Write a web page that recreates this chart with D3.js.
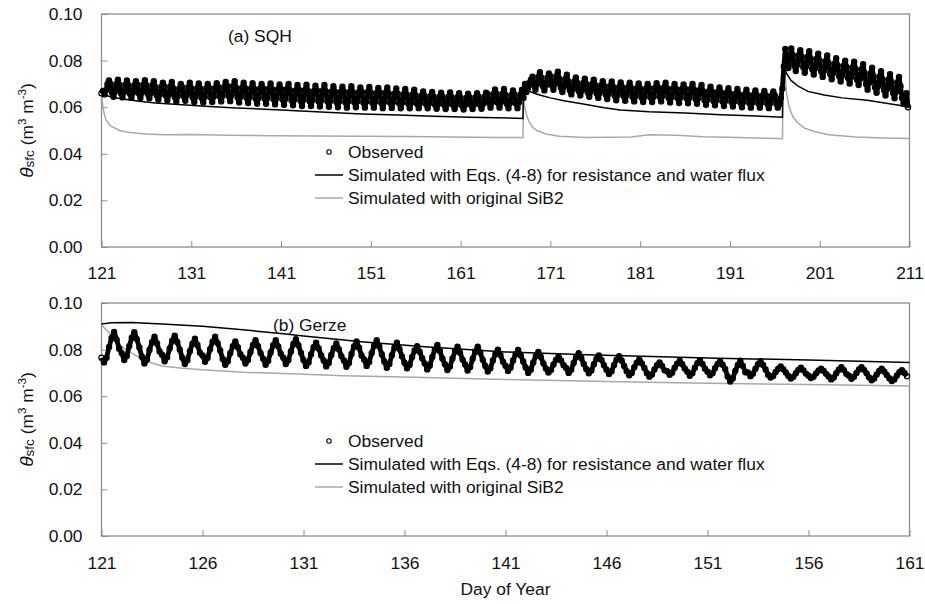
<!DOCTYPE html>
<html>
<head>
<meta charset="utf-8">
<script src="https://cdn.jsdelivr.net/npm/d3@7"></script>
<style>
  body { margin: 0; background: #fff; }
  svg { display: block; }
  text { font-family: "Liberation Sans", Arial, sans-serif; fill: #111; }
</style>
</head>
<body>
<svg id="chart" width="925" height="604"></svg>
<script>
// ---- Shared axis values ----
const thetaTicks = [0, 0.02, 0.04, 0.06, 0.08, 0.10];
const sqhDayTicks = [121, 131, 141, 151, 161, 171, 181, 191, 201, 211];
const gerzeDayTicks = [121, 126, 131, 136, 141, 146, 151, 156, 161];

// ---- (a) SQH: observed surface soil moisture, one value every 4 h from day 121 ----
const sqhObsStart = 121;
const sqhObsStepHours = 4;
const sqhObs = [
  .0660,.0670,.0655,.0673,.0700,.0715, .0700,.0663,.0645,.0667,.0700,.0718,
  .0697,.0660,.0642,.0664,.0697,.0715, .0694,.0658,.0640,.0662,.0694,.0712,
  .0697,.0659,.0640,.0663,.0697,.0716, .0694,.0657,.0638,.0660,.0694,.0712,
  .0687,.0650,.0632,.0654,.0687,.0705, .0689,.0650,.0630,.0653,.0689,.0708,
  .0681,.0644,.0625,.0648,.0681,.0700, .0686,.0647,.0628,.0651,.0686,.0705,
  .0682,.0642,.0622,.0646,.0682,.0702, .0680,.0640,.0620,.0644,.0680,.0700,
  .0683,.0642,.0622,.0646,.0683,.0703, .0687,.0646,.0625,.0650,.0687,.0708,
  .0691,.0648,.0626,.0652,.0691,.0712, .0684,.0641,.0620,.0646,.0684,.0705,
  .0682,.0639,.0618,.0644,.0682,.0703, .0679,.0636,.0615,.0641,.0679,.0700,
  .0680,.0637,.0615,.0641,.0680,.0702, .0677,.0634,.0612,.0638,.0677,.0698,
  .0678,.0633,.0610,.0637,.0678,.0700, .0673,.0630,.0608,.0634,.0673,.0695,
  .0674,.0628,.0605,.0633,.0674,.0697, .0670,.0627,.0605,.0631,.0670,.0692,
  .0672,.0626,.0603,.0631,.0672,.0695, .0668,.0624,.0602,.0628,.0668,.0690,
  .0666,.0622,.0600,.0626,.0666,.0688, .0667,.0621,.0598,.0626,.0667,.0690,
  .0664,.0621,.0600,.0626,.0664,.0685, .0665,.0620,.0598,.0625,.0665,.0687,
  .0662,.0619,.0598,.0624,.0662,.0683, .0663,.0618,.0596,.0623,.0663,.0685,
  .0659,.0618,.0597,.0622,.0659,.0680, .0657,.0616,.0595,.0620,.0657,.0678,
  .0655,.0615,.0595,.0619,.0655,.0675, .0650,.0614,.0596,.0618,.0650,.0668,
  .0648,.0613,.0595,.0616,.0648,.0665, .0645,.0610,.0593,.0614,.0645,.0662,
  .0645,.0610,.0592,.0613,.0645,.0663, .0643,.0609,.0592,.0612,.0643,.0660,
  .0641,.0607,.0590,.0610,.0641,.0658, .0643,.0609,.0592,.0612,.0643,.0660,
  .0645,.0610,.0593,.0614,.0645,.0662, .0657,.0618,.0598,.0621,.0657,.0676,
  .0658,.0618,.0598,.0622,.0658,.0678, .0653,.0614,.0595,.0618,.0653,.0672,
  .0655,.0616,.0596,.0620,.0655,.0675, .0640,.0700,.0665,.0681,.0705,.0718,
  .0731,.0694,.0675,.0698,.0731,.0750, .0727,.0690,.0672,.0694,.0727,.0745,
  .0733,.0694,.0675,.0698,.0733,.0752, .0721,.0684,.0665,.0688,.0721,.0740,
  .0710,.0673,.0655,.0677,.0710,.0728, .0704,.0668,.0650,.0672,.0704,.0722,
  .0700,.0663,.0645,.0667,.0700,.0718, .0694,.0658,.0640,.0662,.0694,.0712,
  .0691,.0654,.0635,.0658,.0691,.0710, .0687,.0649,.0630,.0653,.0687,.0706,
  .0686,.0647,.0628,.0651,.0686,.0705, .0683,.0644,.0625,.0648,.0683,.0702,
  .0681,.0642,.0622,.0645,.0681,.0700, .0683,.0642,.0622,.0646,.0683,.0703,
  .0685,.0645,.0625,.0649,.0685,.0705, .0680,.0640,.0620,.0644,.0680,.0700,
  .0678,.0638,.0618,.0642,.0678,.0698, .0679,.0638,.0617,.0642,.0679,.0700,
  .0675,.0635,.0615,.0639,.0675,.0695, .0669,.0630,.0610,.0633,.0669,.0688,
  .0666,.0627,.0608,.0631,.0666,.0685, .0663,.0624,.0605,.0628,.0663,.0682,
  .0659,.0622,.0603,.0626,.0659,.0678, .0656,.0619,.0600,.0623,.0656,.0675,
  .0654,.0617,.0598,.0620,.0654,.0672, .0652,.0616,.0598,.0620,.0652,.0670,
  .0650,.0614,.0596,.0618,.0650,.0668, .0650,.0615,.0598,.0612,.0640,.0680,
  .0775,.0850,.0790,.0768,.0815,.0852, .0823,.0778,.0755,.0782,.0823,.0845,
  .0817,.0771,.0748,.0776,.0817,.0840, .0808,.0763,.0740,.0767,.0808,.0830,
  .0799,.0753,.0730,.0758,.0799,.0822, .0788,.0743,.0720,.0747,.0788,.0810,
  .0778,.0733,.0710,.0737,.0778,.0800, .0772,.0725,.0702,.0730,.0772,.0795,
  .0763,.0718,.0695,.0722,.0763,.0785, .0746,.0699,.0675,.0704,.0746,.0770,
  .0732,.0685,.0662,.0690,.0732,.0755, .0719,.0673,.0650,.0678,.0719,.0742,
  .0707,.0661,.0638,.0666,.0707,.0730, .0690,.0640,.0615,.0645,.0660,.0600
];

// ---- (a) SQH: simulated with Eqs. (4-8) ----
const sqhEqsDay = [121, 122, 123, 125, 127, 130, 133, 136, 141, 146, 150, 154, 158, 162, 167.95,
  168.0, 168.3, 168.7, 169.2, 170, 171, 172.5, 174.5, 177, 178.8, 182, 186, 190, 194, 196.85,
  196.92, 197.3, 197.8, 198.6, 199.7, 201.5, 203.5, 206.3, 210, 211];
const sqhEqs = [.0658, .0645, .0637, .0627, .0618, .0610, .0603, .0597, .0588, .0578, .0571, .0566, .0561, .0557, .0552,
  .0685, .0676, .0668, .0660, .0650, .0640, .0628, .0615, .0598, .0588, .0580, .0575, .0568, .0562, .0557,
  .0790, .0745, .0715, .0690, .0668, .0652, .0640, .0630, .0607, .0598];

// ---- (a) SQH: simulated with original SiB2 ----
const sqhSib2Day = [121, 121.1, 121.25, 121.5, 122, 122.5, 123, 124, 125, 126, 128, 131, 135, 140, 145,
  150, 155, 160, 165, 167.95, 168.0, 168.15, 168.35, 168.6, 169.0, 169.5, 170.5, 172, 175, 180,
  182, 185, 188, 192, 196.85, 196.95, 197.1, 197.3, 197.6, 198.0, 198.5, 199.3, 200.5, 202, 205, 208, 211];
const sqhSib2 = [.0660, .0620, .0580, .0545, .0520, .0510, .0500, .0492, .0488, .0485, .0482, .0483, .0480, .0478, .0476,
  .0475, .0474, .0472, .0470, .0470, .0635, .0600, .0565, .0540, .0515, .0500, .0485, .0475, .0470, .0472,
  .0482, .0480, .0473, .0470, .0465, .0830, .0760, .0660, .0600, .0560, .0535, .0510, .0495, .0482, .0472, .0468, .0466];

// ---- (b) Gerze: observed surface soil moisture, one value every 3 h from day 121 ----
const gerzeObsStart = 121;
const gerzeObsStepHours = 3;
const gerzeObs = [
  .0765,.0745,.0765,.0811,.0850,.0876,.0843,.0804, .0785,.0755,.0773,.0815,.0851,.0875,.0845,.0809,
  .0769,.0740,.0757,.0798,.0832,.0855,.0826,.0792, .0778,.0750,.0767,.0805,.0838,.0860,.0833,.0800,
  .0765,.0738,.0754,.0793,.0825,.0847,.0820,.0787, .0775,.0748,.0764,.0802,.0834,.0855,.0828,.0796,
  .0760,.0735,.0750,.0785,.0815,.0835,.0810,.0780, .0765,.0740,.0755,.0790,.0820,.0840,.0815,.0785,
  .0761,.0735,.0751,.0788,.0819,.0840,.0814,.0782, .0765,.0738,.0754,.0792,.0824,.0845,.0818,.0786,
  .0755,.0730,.0745,.0780,.0810,.0830,.0805,.0775, .0753,.0728,.0743,.0777,.0806,.0826,.0802,.0772,
  .0753,.0726,.0742,.0781,.0813,.0835,.0808,.0775, .0758,.0730,.0747,.0785,.0818,.0840,.0813,.0780,
  .0749,.0722,.0738,.0776,.0808,.0830,.0803,.0771, .0744,.0720,.0734,.0768,.0796,.0815,.0791,.0763,
  .0741,.0715,.0731,.0768,.0799,.0820,.0794,.0762, .0737,.0712,.0727,.0762,.0792,.0812,.0787,.0757,
  .0736,.0710,.0725,.0761,.0792,.0812,.0787,.0756, .0730,.0706,.0720,.0753,.0781,.0800,.0777,.0748,
  .0731,.0708,.0722,.0753,.0780,.0798,.0776,.0749, .0723,.0700,.0714,.0745,.0772,.0790,.0768,.0741,
  .0719,.0702,.0712,.0736,.0756,.0770,.0753,.0733, .0721,.0700,.0713,.0743,.0768,.0785,.0764,.0738,
  .0717,.0698,.0710,.0737,.0760,.0775,.0756,.0733, .0714,.0695,.0707,.0734,.0757,.0772,.0753,.0730,
  .0707,.0690,.0700,.0724,.0744,.0758,.0741,.0721, .0699,.0684,.0693,.0715,.0733,.0745,.0730,.0711,
  .0707,.0692,.0701,.0722,.0740,.0752,.0737,.0719, .0705,.0688,.0698,.0722,.0742,.0755,.0738,.0718,
  .0705,.0690,.0699,.0720,.0738,.0750,.0735,.0717, .0685,.0663,.0676,.0708,.0734,.0752,.0730,.0703,
  .0702,.0686,.0696,.0718,.0737,.0750,.0734,.0715, .0692,.0680,.0687,.0704,.0718,.0728,.0716,.0702,
  .0688,.0676,.0683,.0699,.0713,.0722,.0711,.0697, .0688,.0678,.0684,.0698,.0710,.0718,.0708,.0696,
  .0685,.0672,.0680,.0699,.0714,.0725,.0712,.0696, .0688,.0675,.0683,.0700,.0715,.0725,.0713,.0698,
  .0681,.0668,.0676,.0693,.0708,.0718,.0706,.0691, .0677,.0665,.0672,.0689,.0703,.0712,.0700,.0686
];

// ---- (b) Gerze: simulated with Eqs. (4-8) ----
const gerzeEqsDay = [121, 121.5, 122.5, 124, 126, 128, 130, 131, 134, 137, 141, 145, 151, 156, 161];
const gerzeEqs = [.0910, .0915, .0916, .0910, .0900, .0885, .0868, .0858, .0833, .0812, .0790, .0778, .0764, .0755, .0745];

// ---- (b) Gerze: simulated with original SiB2 ----
const gerzeSib2Day = [121, 121.3, 121.7, 122.2, 122.7, 123.3, 124, 125, 126, 128, 130, 133, 137, 141, 146, 151, 156, 161];
const gerzeSib2 = [.0905, .0880, .0835, .0800, .0775, .0748, .0730, .0720, .0713, .0703, .0697, .0688, .0680, .0672, .0663, .0656, .0650, .0644];

// ---- Layout ----
const svg = d3.select("#chart");
const plotLeft = 101.5, plotRight = 909.5;
const frameColor = "#8c8c8c";
const sib2Color = "#a8a8a8";
const fontSize = 17.4;

function drawPanel(p) {
  const x = d3.scaleLinear().domain(p.domain).range([plotLeft, plotRight]);
  const y = d3.scaleLinear().domain([0, 0.10]).range([p.bottom, p.top]);
  const g = svg.append("g");

  // y axis: inward ticks, labels on the left
  const yAxis = g.append("g")
    .attr("transform", `translate(${plotLeft},0)`)
    .call(d3.axisLeft(y).tickValues(thetaTicks).tickFormat(d3.format(".2f")).tickSize(-6).tickPadding(19));
  // x axis: inward ticks, labels below
  const xAxis = g.append("g")
    .attr("transform", `translate(0,${p.bottom})`)
    .call(d3.axisBottom(x).tickValues(p.dayTicks).tickFormat(d3.format("d")).tickSize(-6).tickPadding(p.xPad));
  [yAxis, xAxis].forEach(a => {
    a.select(".domain").remove();
    a.selectAll(".tick line").attr("stroke", frameColor).attr("stroke-width", 1);
    a.selectAll(".tick text").attr("font-size", fontSize).attr("fill", "#111")
      .attr("font-family", '"Liberation Sans", Arial, sans-serif');
  });

  // plot frame
  g.append("rect")
    .attr("x", plotLeft).attr("y", p.top)
    .attr("width", plotRight - plotLeft).attr("height", p.bottom - p.top)
    .attr("fill", "none").attr("stroke", frameColor).attr("stroke-width", 1.3);

  const line = d3.line().x(d => x(d[0])).y(d => y(d[1]));

  // simulated with original SiB2
  g.append("path")
    .datum(p.sibDay.map((d, i) => [d, p.sib[i]]))
    .attr("d", line).attr("fill", "none").attr("stroke", sib2Color).attr("stroke-width", 1.5);

  // observed: open circle markers, densely overlapping
  const obsPts = p.obs.map((v, i) => [p.obsStart + i * p.obsStepHours / 24, v]);
  g.append("g").selectAll("circle").data(obsPts).join("circle")
    .attr("cx", d => x(d[0])).attr("cy", d => y(d[1])).attr("r", 2.6)
    .attr("fill", "#fff").attr("stroke", "#000").attr("stroke-width", 1.2);
  g.append("path").datum(obsPts)
    .attr("d", line).attr("fill", "none").attr("stroke", "#000")
    .attr("stroke-width", 4.8).attr("stroke-linejoin", "round");

  // simulated with Eqs. (4-8)
  g.append("path")
    .datum(p.eqsDay.map((d, i) => [d, p.eqs[i]]))
    .attr("d", line).attr("fill", "none").attr("stroke", "#000").attr("stroke-width", 1.5);

  // panel title
  g.append("text").attr("x", p.titleX).attr("y", p.top + 28)
    .attr("font-size", fontSize).text(p.title);

  // legend
  const lg = g.append("g").attr("transform", `translate(0,${p.top})`);
  lg.append("circle").attr("cx", 329).attr("cy", 138).attr("r", 2.2)
    .attr("fill", "#fff").attr("stroke", "#000").attr("stroke-width", 1.1);
  lg.append("text").attr("x", 348).attr("y", 144).attr("font-size", fontSize).text("Observed");
  lg.append("line").attr("x1", 315).attr("x2", 343).attr("y1", 161).attr("y2", 161)
    .attr("stroke", "#000").attr("stroke-width", 1.5);
  lg.append("text").attr("x", 348).attr("y", 167).attr("font-size", fontSize)
    .text("Simulated with Eqs. (4-8) for resistance and water flux");
  lg.append("line").attr("x1", 315).attr("x2", 343).attr("y1", 184).attr("y2", 184)
    .attr("stroke", sib2Color).attr("stroke-width", 1.5);
  lg.append("text").attr("x", 348).attr("y", 190).attr("font-size", fontSize)
    .text("Simulated with original SiB2");

  // y-axis title: θsfc (m3 m-3)
  const t = g.append("text")
    .attr("transform", `translate(33,${(p.top + p.bottom) / 2}) rotate(-90)`)
    .attr("text-anchor", "middle").attr("font-size", fontSize);
  t.append("tspan").attr("font-style", "italic").attr("font-size", 19).text("θ");
  t.append("tspan").attr("font-size", 13.5).attr("dy", 1).text("sfc");
  t.append("tspan").attr("dy", -1).text(" (m");
  t.append("tspan").attr("font-size", 11.5).attr("dy", -7).text("3");
  t.append("tspan").attr("dy", 7).text(" m");
  t.append("tspan").attr("font-size", 11.5).attr("dy", -7).text("-3");
  t.append("tspan").attr("dy", 7).text(")");
}

drawPanel({
  top: 14, bottom: 247, domain: [121, 211], dayTicks: sqhDayTicks, xPad: 20,
  title: "(a) SQH", titleX: 228,
  obsStart: sqhObsStart, obsStepHours: sqhObsStepHours, obs: sqhObs,
  eqsDay: sqhEqsDay, eqs: sqhEqs, sibDay: sqhSib2Day, sib: sqhSib2
});

drawPanel({
  top: 303, bottom: 536, domain: [121, 161], dayTicks: gerzeDayTicks, xPad: 21,
  title: "(b) Gerze", titleX: 273,
  obsStart: gerzeObsStart, obsStepHours: gerzeObsStepHours, obs: gerzeObs,
  eqsDay: gerzeEqsDay, eqs: gerzeEqs, sibDay: gerzeSib2Day, sib: gerzeSib2
});

// shared x-axis title
svg.append("text").attr("x", (plotLeft + plotRight) / 2).attr("y", 595)
  .attr("text-anchor", "middle").attr("font-size", fontSize).text("Day of Year");
</script>
</body>
</html>
